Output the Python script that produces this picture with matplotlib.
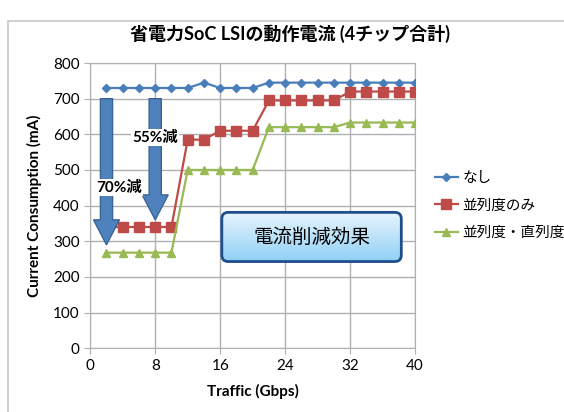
import matplotlib.pyplot as plt
import numpy as np
from matplotlib.colors import LinearSegmentedColormap
from matplotlib.patches import FancyArrow, FancyBboxPatch, Rectangle

# 通信量 (Gbps) ごとの動作電流 (mA)
traffic = [2, 4, 6, 8, 10, 12, 14, 16, 18, 20, 22, 24, 26, 28, 30, 32, 34, 36, 38, 40]
nashi = [730, 730, 730, 730, 730, 730, 745, 730, 730, 730,
         745, 745, 745, 745, 745, 745, 745, 745, 745, 745]
heiretsu = [340, 340, 340, 340, 340, 585, 585, 610, 610, 610,
            695, 695, 695, 695, 695, 720, 720, 720, 720, 720]
heiretsu_chokuretsu = [268, 268, 268, 268, 268, 500, 500, 500, 500, 500,
                       620, 620, 620, 620, 620, 633, 633, 633, 633, 633]

series_labels = ['なし', '並列度のみ', '並列度・直列度']
x_ticks = [0, 8, 16, 24, 32, 40]
y_ticks = [0, 100, 200, 300, 400, 500, 600, 700, 800]

# 削減率の矢印 (x位置, 始点, 終点) とラベル
arrow_x = [2, 8]
arrow_top = [700, 700]
arrow_bottom = [290, 360]
arrow_labels = ['70%減', '55%減']

FONT = ['Lato', 'Noto Sans CJK JP', 'DejaVu Sans']
plt.rcParams['font.family'] = FONT

fig = plt.figure(figsize=(5.64, 4.12), dpi=100)
fig.patches.append(Rectangle((8 / 564, -0.01), 0.99, 0.96, transform=fig.transFigure,
                             fill=False, edgecolor='#c8c8c8', linewidth=1.2))
ax = fig.add_axes([0.16, 0.155, 0.576, 0.692])

ax.plot(traffic, nashi, color='#4a7ebb', marker='D', markersize=4.5, linewidth=1.6,
        label=series_labels[0], zorder=3)
ax.plot(traffic, heiretsu, color='#be4b48', marker='s', markersize=6.5, linewidth=1.6,
        label=series_labels[1], zorder=3)
ax.plot(traffic, heiretsu_chokuretsu, color='#98b954', marker='^', markersize=6, linewidth=1.6,
        label=series_labels[2], zorder=3)

ax.set_xlim(0, 40)
ax.set_ylim(0, 800)
ax.set_xticks(x_ticks)
ax.set_yticks(y_ticks)
ax.grid(True, color='#b0b0b0', linewidth=1.0)
ax.set_axisbelow(True)
for s in ax.spines.values():
    s.set_color('#b0b0b0')
ax.tick_params(length=4, color='#b0b0b0', labelsize=11)

ax.set_xlabel('Traffic (Gbps)', fontsize=11, fontweight='bold', labelpad=8)
ax.set_ylabel('Current Consumption (mA)', fontsize=11, fontweight='bold', labelpad=8)
fig.text(0.515, 0.918, '省電力SoC LSIの動作電流 (4チップ合計)', ha='center', va='center',
         fontsize=13, fontweight='bold')

# 削減の矢印とラベル
for x, top, bottom in zip(arrow_x, arrow_top, arrow_bottom):
    ax.add_patch(FancyArrow(x, top, 0, bottom - top, width=1.5, head_width=3.2,
                            head_length=70, length_includes_head=True,
                            facecolor='#4f81bd', edgecolor='#3a6496', linewidth=1, zorder=4))
ax.text(3.5, 450, arrow_labels[0], ha='center', va='center', fontsize=11, fontweight='bold',
        bbox=dict(facecolor='white', edgecolor='none', pad=1), zorder=5)
ax.text(8.0, 590, arrow_labels[1], ha='center', va='center', fontsize=11, fontweight='bold',
        bbox=dict(facecolor='white', edgecolor='none', pad=1), zorder=5)

# 効果の枠 (グラデーション)
bx0, bx1, by0, by1 = 16.2, 38.3, 243, 381
box = FancyBboxPatch((bx0, by0), bx1 - bx0, by1 - by0,
                     boxstyle='round,pad=0,rounding_size=0.8', mutation_aspect=22.8,
                     facecolor='none', edgecolor='#1f4e8c', linewidth=2, zorder=6)
ax.add_patch(box)
grad = np.linspace(0, 1, 100).reshape(-1, 1)
im = ax.imshow(grad, extent=(bx0, bx1, by0, by1), origin='upper', aspect='auto',
               cmap=LinearSegmentedColormap.from_list('g', ['#e8f4fd', '#8fd0f5']), zorder=5)
im.set_clip_path(box)
ax.text((bx0 + bx1) / 2, (by0 + by1) / 2, '電流削減効果', ha='center', va='center',
        fontsize=14, zorder=7)

ax.legend(loc='center left', bbox_to_anchor=(1.02, 0.5), frameon=False, fontsize=10.5,
          handlelength=1.6, handletextpad=0.3, labelspacing=0.9)

fig.savefig('out.png', dpi=100)
